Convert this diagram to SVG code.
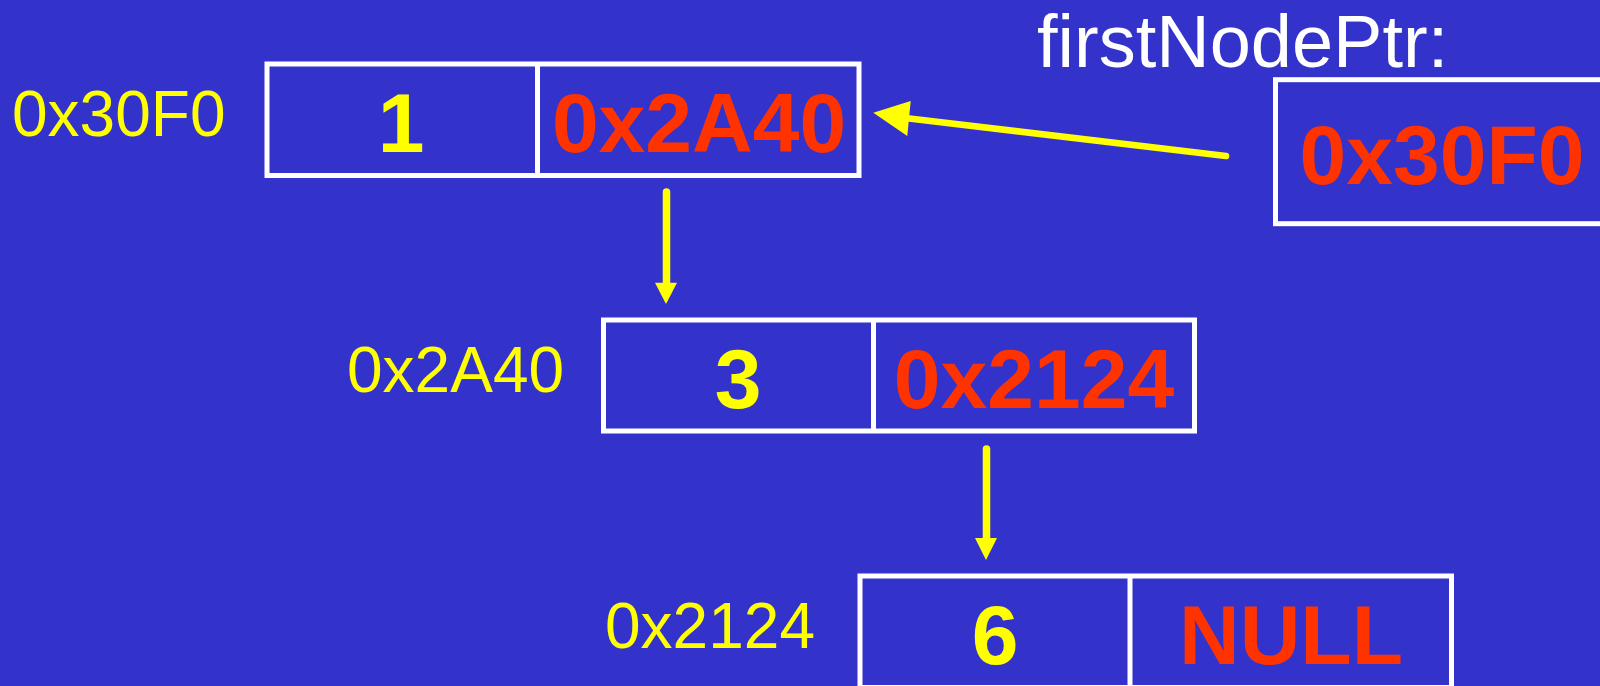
<svg xmlns="http://www.w3.org/2000/svg" width="1600" height="686" viewBox="0 0 1600 686">
  <style>
    .cell { fill: none; stroke: #FFFFFF; stroke-width: 5; }
    .addr { font-family: "Liberation Sans", Arial, sans-serif; font-size: 64px; fill: #FFFF00; }
    .data { font-family: "Liberation Sans", Arial, sans-serif; font-size: 84px; font-weight: bold; fill: #FFFF00; text-anchor: middle; }
    .ptr { font-family: "Liberation Sans", Arial, sans-serif; font-size: 84px; font-weight: bold; fill: #FF3300; text-anchor: middle; }
    .title { font-family: "Liberation Sans", Arial, sans-serif; font-size: 74px; fill: #FFFFFF; }
    .link { stroke: #FFFF00; stroke-linecap: round; fill: none; }
    .head { fill: #FFFF00; }
  </style>

  <rect x="0" y="0" width="1600" height="686" fill="#3333CC"/>

  <!-- head pointer variable -->
  <g id="firstNodePtr">
    <text class="title" x="1037" y="67">firstNodePtr:</text>
    <rect class="cell" x="1275.5" y="79.7" width="340" height="144"/>
    <text class="ptr" x="1442" y="184">0x30F0</text>
  </g>

  <!-- list node at 0x30F0 -->
  <g id="node1">
    <text class="addr" x="12" y="136">0x30F0</text>
    <rect class="cell" x="267" y="64" width="592" height="111.5"/>
    <line class="cell" x1="537.5" y1="64" x2="537.5" y2="175.5"/>
    <text class="data" x="401" y="152">1</text>
    <text class="ptr" x="699" y="152">0x2A40</text>
  </g>

  <!-- list node at 0x2A40 -->
  <g id="node2">
    <text class="addr" x="347" y="392">0x2A40</text>
    <rect class="cell" x="603.5" y="320" width="591" height="111"/>
    <line class="cell" x1="873.5" y1="320" x2="873.5" y2="431"/>
    <text class="data" x="738" y="408">3</text>
    <text class="ptr" x="1034" y="408">0x2124</text>
  </g>

  <!-- list node at 0x2124 -->
  <g id="node3">
    <text class="addr" x="605" y="648">0x2124</text>
    <rect class="cell" x="860" y="576" width="591.5" height="111.5"/>
    <line class="cell" x1="1130" y1="576" x2="1130" y2="690"/>
    <text class="data" x="995" y="664">6</text>
    <text class="ptr" x="1291" y="664">NULL</text>
  </g>

  <!-- links -->
  <g id="connectors">
    <line class="link" stroke-width="6.6" x1="1226" y1="156" x2="905" y2="118"/>
    <polygon class="head" points="873.3,112.7 910.7,101 907.3,136"/>

    <line class="link" stroke-width="7.5" x1="666.5" y1="192" x2="666.5" y2="284"/>
    <polygon class="head" points="655,282.7 677,282.7 666,304"/>

    <line class="link" stroke-width="7.5" x1="986.5" y1="449" x2="986.5" y2="540"/>
    <polygon class="head" points="975,538 997,538 986,560"/>
  </g>
</svg>
